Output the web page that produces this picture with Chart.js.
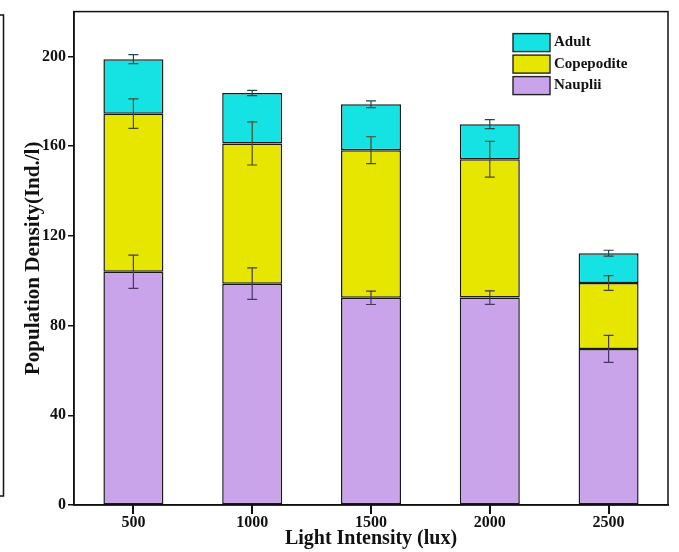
<!DOCTYPE html>
<html>
<head>
<meta charset="utf-8">
<script src="https://cdn.jsdelivr.net/npm/chart.js@4.4.1/dist/chart.umd.min.js"></script>
<style>
    html, body { margin: 0; padding: 0; background: #fff; }
    #wrap { width: 679px; height: 552px; position: relative; }
</style>
</head>
<body>
<div id="wrap"><canvas id="densityChart"></canvas></div>
<script>
const lightLevels = ['500', '1000', '1500', '2000', '2500'];

// stage densities (Ind./l), stacked bottom to top
const nauplii = [104.0, 98.7, 92.4, 92.5, 69.6];
const copepodite = [70.5, 62.5, 65.8, 61.7, 29.4];
const adult = [24.3, 22.5, 20.5, 15.6, 13.3];

// standard deviations for each stage
const naupliiErr = [7.4, 7.0, 3.0, 3.0, 6.0];
const copepoditeErr = [6.6, 9.6, 6.0, 8.0, 3.3];
const adultErr = [2.0, 1.2, 1.5, 2.0, 1.3];

const yTicks = [0, 40, 80, 120, 160, 200];

const serif = "'Liberation Serif', 'Times New Roman', serif";

// error bar drawn at the top of every stacked segment
const errorBars = {
    id: 'errorBars',
    afterDatasetsDraw(chart) {
        const c = chart.ctx;
        const y = chart.scales.y;
        c.save();
        c.lineWidth = 1.2;
        chart.data.datasets.forEach((ds, di) => {
            const meta = chart.getDatasetMeta(di);
            meta.data.forEach((bar, i) => {
                let top = 0;
                for (let k = 0; k <= di; k++) top += chart.data.datasets[k].data[i];
                const err = ds.errors[i];
                const y1 = y.getPixelForValue(top + err);
                const y2 = y.getPixelForValue(top - err);
                c.strokeStyle = ds.errColor;
                c.beginPath();
                c.moveTo(bar.x, y1); c.lineTo(bar.x, y2);
                c.moveTo(bar.x - 5, y1); c.lineTo(bar.x + 5, y1);
                c.moveTo(bar.x - 5, y2); c.lineTo(bar.x + 5, y2);
                c.stroke();
            });
        });
        c.restore();
    }
};

// frame round the plot, x tick marks, legend box and the edge of the neighbouring panel
const frame = {
    id: 'frame',
    afterDraw(chart) {
        const c = chart.ctx;
        const a = chart.chartArea;
        const x = chart.scales.x;
        c.save();
        c.strokeStyle = '#111';
        c.lineWidth = 1.5;
        c.strokeRect(a.left, a.top, a.right - a.left, a.bottom - a.top);

        c.lineWidth = 2;
        c.beginPath();
        lightLevels.forEach((lv, i) => {
            const px = Math.round(x.getPixelForValue(i));
            c.moveTo(px, a.bottom);
            c.lineTo(px, a.bottom + 9);
        });
        c.stroke();

        c.lineWidth = 1.5;
        c.beginPath();
        c.moveTo(0, 15); c.lineTo(3.5, 15); c.lineTo(3.5, 496); c.lineTo(0, 496);
        c.stroke();

        // legend, top stage first
        const items = chart.data.datasets.slice().reverse();
        const bx = a.right - 155;
        let by = a.top + 22;
        c.font = 'bold 15px ' + serif;
        c.textBaseline = 'middle';
        c.textAlign = 'left';
        items.forEach(ds => {
            c.fillStyle = ds.backgroundColor;
            c.fillRect(bx, by, 37, 18);
            c.lineWidth = 1.4;
            c.strokeStyle = '#222';
            c.strokeRect(bx, by, 37, 18);
            c.fillStyle = '#111';
            c.fillText(ds.label, bx + 41, by + 9);
            by += 21.5;
        });
        c.restore();
    }
};

const ctx = document.getElementById('densityChart').getContext('2d');

new Chart(ctx, {
    type: 'bar',
    data: {
        labels: lightLevels,
        datasets: [
            { label: 'Nauplii', data: nauplii, errors: naupliiErr, backgroundColor: '#c9a4ea', errColor: '#4a3560' },
            { label: 'Copepodite', data: copepodite, errors: copepoditeErr, backgroundColor: '#e6e600', errColor: '#4a4a20' },
            { label: 'Adult', data: adult, errors: adultErr, backgroundColor: '#15e3e3', errColor: '#1f4a4a' }
        ].map(d => Object.assign(d, {
            borderColor: '#1a1a1a',
            borderWidth: 1.5,
            borderSkipped: false,
            barPercentage: 0.505,
            categoryPercentage: 1.0
        }))
    },
    options: {
        responsive: true,
        maintainAspectRatio: false,
        animation: false,
        layout: { padding: { left: 0, right: 11, top: 10, bottom: 0 } },
        plugins: {
            legend: { display: false },
            tooltip: { enabled: false }
        },
        scales: {
            x: {
                stacked: true,
                grid: { display: false, drawTicks: true, tickLength: 6 },
                border: { display: true, color: '#111', width: 1.5 },
                ticks: { color: '#111', font: { family: serif, size: 16, weight: 'bold' }, padding: 2, maxRotation: 0 },
                title: {
                    display: true,
                    text: 'Light Intensity (lux)',
                    color: '#111',
                    font: { family: serif, size: 20, weight: 'bold' },
                    padding: { top: 0, bottom: 1 }
                },
                afterFit: s => { s.height = 47; }
            },
            y: {
                stacked: true,
                min: 0,
                max: 220,
                grid: { display: true, drawOnChartArea: false, drawTicks: true, tickLength: 6, color: '#111', lineWidth: 1.5 },
                border: { display: true, color: '#111', width: 1.5 },
                ticks: { stepSize: 40, color: '#111', font: { family: serif, size: 16, weight: 'bold' }, padding: 2 },
                afterBuildTicks: s => { s.ticks = yTicks.map(v => ({ value: v })); },
                title: {
                    display: true,
                    text: 'Population Density(Ind./l)',
                    color: '#111',
                    font: { family: serif, size: 21, weight: 'bold' },
                    padding: { top: 21, bottom: 0 }
                },
                afterFit: s => { s.width = 74; }
            }
        }
    },
    plugins: [errorBars, frame]
});
</script>
</body>
</html>
